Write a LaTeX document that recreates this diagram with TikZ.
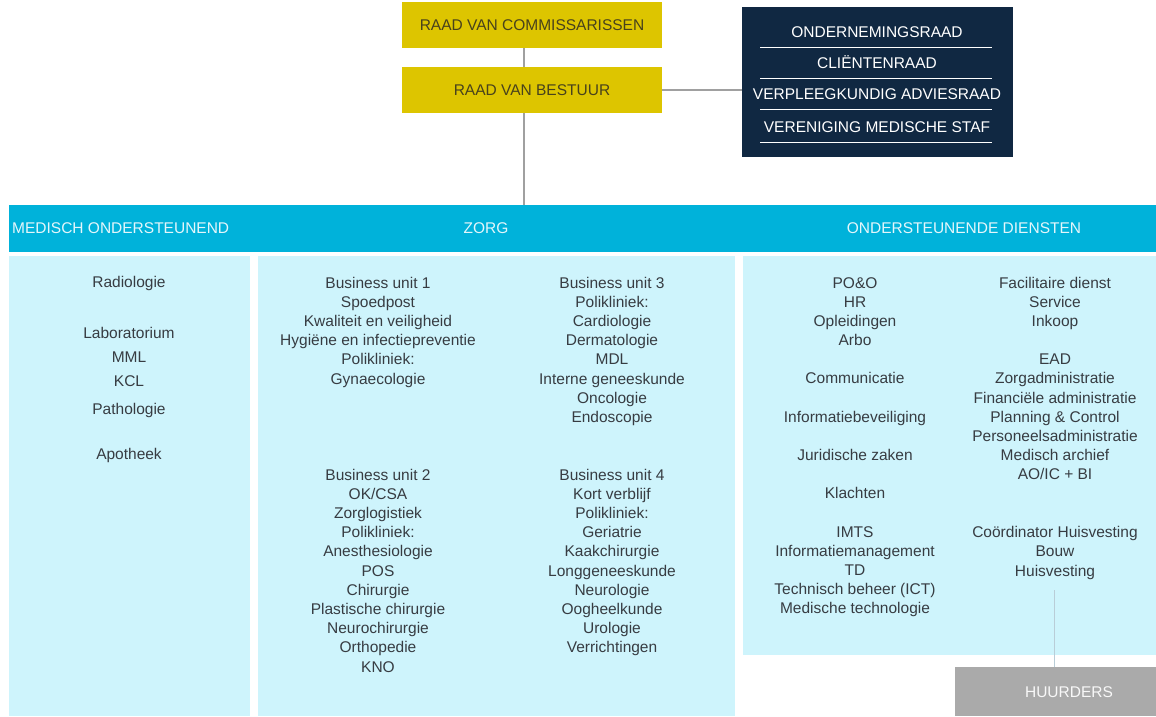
\documentclass[tikz,border=0pt]{standalone}
\usepackage{fontspec}
\setmainfont{Liberation Sans}
\definecolor{ylw}{RGB}{221,197,0}
\definecolor{ylwtxt}{RGB}{72,66,28}
\definecolor{navy}{RGB}{16,40,66}
\definecolor{cyanbar}{RGB}{0,178,218}
\definecolor{panel}{RGB}{206,244,252}
\definecolor{txt}{RGB}{55,60,66}
\definecolor{linegrey}{RGB}{160,160,160}
\definecolor{hgrey}{RGB}{170,170,170}
\definecolor{hdrtxt}{RGB}{228,246,251}
\definecolor{thinline}{RGB}{185,205,215}
\begin{document}
\begin{tikzpicture}[x=1pt,y=-1pt,
  box/.style={inner sep=0pt, outer sep=0pt, anchor=north west, draw=none},
  it/.style={font=\fontsize{15.5}{19}\selectfont, text=txt, inner sep=0pt, text height=11.2pt, text depth=0pt},
  hdr/.style={font=\fontsize{15.5}{19}\selectfont, text=hdrtxt, inner sep=0pt, text height=11.2pt, text depth=0pt},
  advt/.style={font=\fontsize{15.5}{19}\selectfont, text=white, inner sep=0pt, text height=11.2pt, text depth=0pt},
  ytxt/.style={font=\fontsize{15.5}{19}\selectfont, text=ylwtxt},
  conn/.style={draw=linegrey, line width=1.3pt},
  sep/.style={draw=white, line width=0.9pt}]
\useasboundingbox (0,0) rectangle (1156,716);
\fill[white] (0,0) rectangle (1156,716);

% top boxes
\node[box, fill=ylw, minimum width=260pt, minimum height=46pt] (rvc) at (402,2) {};
\node[ytxt] (rvct) at (532,25) {RAAD VAN COMMISSARISSEN};
\node[box, fill=ylw, minimum width=260pt, minimum height=46pt] (rvb) at (402,67) {};
\node[ytxt] (rvbt) at (532,90) {RAAD VAN BESTUUR};

\node[box, fill=navy, minimum width=271pt, minimum height=150pt] (adv) at (742,7) {};
\node[advt] (a1) at (877,32) {ONDERNEMINGSRAAD};
\node[advt] (a2) at (877,63) {CLIËNTENRAAD};
\node[advt] (a3) at (877,94) {VERPLEEGKUNDIG ADVIESRAAD};
\node[advt] (a4) at (877,127) {VERENIGING MEDISCHE STAF};
\foreach \yy in {47,78,109,142} \draw[sep] (760,\yy) -- (992,\yy);

% bar and panels
\node[box, fill=cyanbar, minimum width=1147pt, minimum height=47pt] (bar) at (9,205) {};
\node[box, fill=panel, minimum width=241pt, minimum height=460pt] (med) at (9,256) {};
\node[box, fill=panel, minimum width=477pt, minimum height=460pt] (zorg) at (258,256) {};
\node[box, fill=panel, minimum width=413pt, minimum height=399pt] (ond) at (743,256) {};
\node[box, fill=hgrey, minimum width=201pt, minimum height=49pt] (huur) at (955,667) {};
\node[hdr, text=white!92!hgrey] (huurt) at (1069,692) {HUURDERS};

\node[hdr, anchor=west] (h1) at (12,228) {MEDISCH ONDERSTEUNEND};
\node[hdr] (h2) at (486,228) {ZORG};
\node[hdr] (h3) at (964,228) {ONDERSTEUNENDE DIENSTEN};

% connectors
\coordinate (spine) at (524,0);
\draw[conn] (rvc.south -| spine) -- (rvb.north -| spine);
\draw[conn] (rvb.south -| spine) -- (bar.north -| spine);
\draw[conn] (rvb.east) -- (adv.west |- rvb.east);

% medisch ondersteunend
\node[it] (m1) at (129,282) {Radiologie};
\node[it] (m2) at (129,333) {Laboratorium};
\node[it] (m3) at (129,357) {MML};
\node[it] (m4) at (129,381) {KCL};
\node[it] (m5) at (129,409) {Pathologie};
\node[it] (m6) at (129,454) {Apotheek};

% zorg
\foreach \t [count=\i from 0] in {Business unit 1, Spoedpost, Kwaliteit en veiligheid, Hygiëne en infectiepreventie, Polikliniek:, Gynaecologie}
  \node[it] (bua-\i) at (378,{282.5+19.2*\i}) {\t};
\foreach \t [count=\i from 0] in {Business unit 2, OK/CSA, Zorglogistiek, Polikliniek:, Anesthesiologie, POS, Chirurgie, Plastische chirurgie, Neurochirurgie, Orthopedie, KNO}
  \node[it] (bub-\i) at (378,{474.5+19.2*\i}) {\t};
\foreach \t [count=\i from 0] in {Business unit 3, Polikliniek:, Cardiologie, Dermatologie, MDL, Interne geneeskunde, Oncologie, Endoscopie}
  \node[it] (buc-\i) at (612,{282.5+19.2*\i}) {\t};
\foreach \t [count=\i from 0] in {Business unit 4, Kort verblijf, Polikliniek:, Geriatrie, Kaakchirurgie, Longgeneeskunde, Neurologie, Oogheelkunde, Urologie, Verrichtingen}
  \node[it] (bud-\i) at (612,{474.5+19.2*\i}) {\t};

% ondersteunende diensten, left
\foreach \t [count=\i from 0] in {PO\&O, HR, Opleidingen, Arbo}
  \node[it] (oa-\i) at (855,{282.5+19.2*\i}) {\t};
\node[it] (ob1) at (855,378) {Communicatie};
\node[it] (ob2) at (855,417) {Informatiebeveiliging};
\node[it] (ob3) at (855,455) {Juridische zaken};
\node[it] (ob4) at (855,493) {Klachten};
\foreach \t [count=\i from 0] in {IMTS, Informatiemanagement, TD, Technisch beheer (ICT), Medische technologie}
  \node[it] (oc-\i) at (855,{532+19.0*\i}) {\t};

% ondersteunende diensten, right
\foreach \t [count=\i from 0] in {Facilitaire dienst, Service, Inkoop}
  \node[it] (fa-\i) at (1055,{282.5+19.2*\i}) {\t};
\foreach \t [count=\i from 0] in {EAD, Zorgadministratie, Financiële administratie, Planning \& Control, Personeelsadministratie, Medisch archief, AO/IC + BI}
  \node[it] (fb-\i) at (1055,{359+19.2*\i}) {\t};
\foreach \t [count=\i from 0] in {Coördinator Huisvesting, Bouw, Huisvesting}
  \node[it] (fc-\i) at (1055,{532+19.2*\i}) {\t};

\coordinate (hvtop) at (1054,590);
\draw[draw=thinline, line width=0.8pt] (hvtop) -- (huur.north -| hvtop);
\end{tikzpicture}
\end{document}
